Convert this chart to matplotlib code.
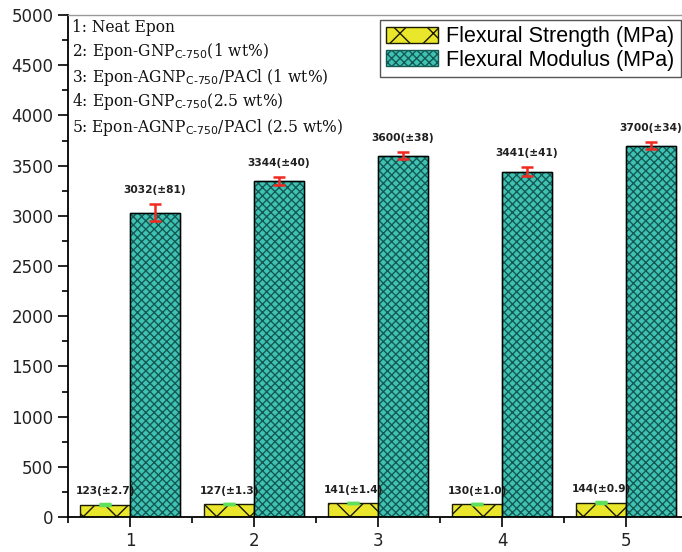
import matplotlib.pyplot as plt
import numpy as np
from matplotlib.ticker import MultipleLocator

# Sample numbering and composition legend
samples = [1, 2, 3, 4, 5]
sample_notes = [
    "1: Neat Epon",
    r"2: Epon-GNP$_{\mathsf{C\text{-}750}}$(1 wt%)",
    r"3: Epon-AGNP$_{\mathsf{C\text{-}750}}$/PACl (1 wt%)",
    r"4: Epon-GNP$_{\mathsf{C\text{-}750}}$(2.5 wt%)",
    r"5: Epon-AGNP$_{\mathsf{C\text{-}750}}$/PACl (2.5 wt%)",
]

# Flexural properties (MPa) with standard deviations
strength = [123, 127, 141, 130, 144]
strength_err = [2.7, 1.3, 1.4, 1.0, 0.9]
modulus = [3032, 3344, 3600, 3441, 3700]
modulus_err = [81, 40, 38, 41, 34]

plt.rcParams['mathtext.fontset'] = 'dejavusans'
plt.rcParams['hatch.linewidth'] = 1.0
plt.rcParams['hatch.color'] = '#2a2a10'

fig = plt.figure(figsize=(6.82, 5.52), dpi=100)
ax = fig.add_axes([68 / 682, 35 / 552, 620 / 682, 502 / 552])

x = np.array(samples, dtype=float)
w = 0.4

b1 = ax.bar(x - w / 2, strength, width=w, color='#e9e62c', edgecolor='#1a1a00',
            linewidth=1.0, hatch='x', label='Flexural Strength (MPa)', zorder=2)
b2 = ax.bar(x + w / 2, modulus, width=w, color='#3fc2b4', edgecolor='#145a52',
            linewidth=1.0, hatch='xxxx', label='Flexural Modulus (MPa)', zorder=2)
# black outline over the hatched modulus bars
ax.bar(x + w / 2, modulus, width=w, facecolor='none', edgecolor='black',
       linewidth=1.0, zorder=3)

ax.errorbar(x - w / 2, strength, yerr=strength_err, fmt='none', ecolor='#5fe05a',
            elinewidth=2, capsize=4.5, capthick=2.5, zorder=4)
ax.errorbar(x + w / 2, modulus, yerr=modulus_err, fmt='none', ecolor='#f02a20',
            elinewidth=1.8, capsize=4.5, capthick=1.8, zorder=4)

for xi, v, e in zip(x, strength, strength_err):
    ax.text(xi - w / 2, v + e + 80, f"{v}(\u00b1{e:.1f})", ha='center', va='bottom',
            fontsize=7.7, fontweight='bold', color='#202020')
for xi, v, e in zip(x, modulus, modulus_err):
    ax.text(xi + w / 2, v + e + 90, f"{v}(\u00b1{e})", ha='center', va='bottom',
            fontsize=7.7, fontweight='bold', color='#202020')

ax.set_xlim(0.5, 5.5)
ax.set_ylim(0, 5000)
ax.set_xticks(samples)
ax.xaxis.set_minor_locator(MultipleLocator(0.5))
ax.yaxis.set_major_locator(MultipleLocator(500))
ax.yaxis.set_minor_locator(MultipleLocator(250))
ax.tick_params(which='major', direction='out', length=7, width=1.2, labelsize=12)
ax.tick_params(which='minor', direction='out', length=4, width=1.2)
for lab in ax.get_xticklabels() + ax.get_yticklabels():
    lab.set_color('#222222')

ax.spines['left'].set_linewidth(1.3)
ax.spines['bottom'].set_linewidth(1.3)
ax.spines['top'].set_color('#999999')
ax.spines['top'].set_linewidth(1.0)
ax.spines['right'].set_visible(False)

for i, note in enumerate(sample_notes):
    fig.text(72 / 682, 1 - (27 + 25 * i) / 552, note, fontsize=11.2,
             family='DejaVu Serif', va='center', ha='left', color='#111111')

leg = ax.legend(handles=[b1, b2], loc='upper right', bbox_to_anchor=(681 / 682, 1 - 20 / 552),
                bbox_transform=fig.transFigure, borderaxespad=0, fancybox=False,
                prop={'family': 'Liberation Sans', 'size': 15.5}, handlelength=2.4,
                handleheight=0.75, handletextpad=0.4, labelspacing=0.1, borderpad=0.3,
                framealpha=1, edgecolor='#555555')
leg.get_frame().set_linewidth(1.0)

fig.savefig('out.png', dpi=100)
